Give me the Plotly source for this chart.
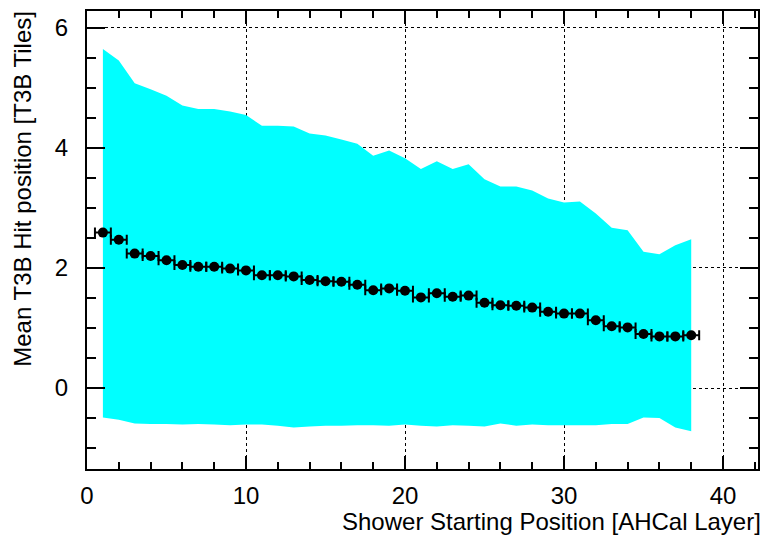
import plotly.graph_objects as go

layers = list(range(1, 39))
mean_hit = [2.59, 2.47, 2.24, 2.20, 2.13, 2.05, 2.02, 2.02, 1.99, 1.96,
            1.88, 1.88, 1.86, 1.80, 1.78, 1.77, 1.72, 1.63, 1.66, 1.62,
            1.51, 1.58, 1.52, 1.54, 1.42, 1.38, 1.37, 1.34, 1.27, 1.24,
            1.24, 1.13, 1.03, 1.01, 0.90, 0.86, 0.86, 0.88]
layer_halfwidth = [0.5] * 38
band_upper = [5.65, 5.46, 5.08, 4.98, 4.87, 4.71, 4.65, 4.65, 4.61, 4.55,
              4.37, 4.37, 4.36, 4.24, 4.21, 4.14, 4.07, 3.87, 3.96, 3.83,
              3.65, 3.78, 3.65, 3.73, 3.48, 3.36, 3.36, 3.29, 3.16, 3.09,
              3.11, 2.91, 2.67, 2.63, 2.27, 2.23, 2.38, 2.48]
band_lower = [-0.49, -0.53, -0.59, -0.60, -0.60, -0.61, -0.60, -0.61, -0.62, -0.61,
              -0.61, -0.63, -0.66, -0.64, -0.63, -0.63, -0.62, -0.62, -0.63, -0.61,
              -0.63, -0.64, -0.62, -0.63, -0.64, -0.59, -0.63, -0.61, -0.62, -0.62,
              -0.62, -0.62, -0.60, -0.60, -0.49, -0.50, -0.66, -0.72]

FONT = "Liberation Sans, Arial, Helvetica, sans-serif"
FS = 24

fig = go.Figure()
fig.add_trace(go.Scatter(
    x=layers + layers[::-1], y=band_upper + band_lower[::-1],
    fill="toself", fillcolor="#00FFFF", mode="none", hoverinfo="skip",
    showlegend=False))
fig.add_trace(go.Scatter(
    x=layers, y=mean_hit, mode="markers",
    marker=dict(color="black", size=10, symbol="circle"),
    error_x=dict(type="data", array=layer_halfwidth, color="black",
                 thickness=2, width=5),
    showlegend=False))

axis_common = dict(
    showline=True, linecolor="black", linewidth=2, mirror="allticks",
    ticks="inside", tickcolor="black", tickwidth=2,
    showgrid=True, gridcolor="black", gridwidth=1, griddash="dot",
    zeroline=False,
    tickfont=dict(family=FONT, size=FS, color="black"),
)

fig.update_xaxes(
    range=[0, 42.2], tick0=0, dtick=10, ticklen=13,
    minor=dict(dtick=2, ticks="inside", ticklen=7, tickwidth=2,
               tickcolor="black", showgrid=False),
    ticklabelstandoff=4,
    **axis_common)
fig.update_yaxes(
    range=[-1.35, 6.283], tick0=0, dtick=2, ticklen=18,
    minor=dict(dtick=0.5, ticks="inside", ticklen=9, tickwidth=2,
               tickcolor="black", showgrid=False),
    ticklabelstandoff=12,
    **axis_common)

fig.update_layout(
    width=763, height=536,
    margin=dict(l=87, r=5, t=11, b=67, autoexpand=False),
    paper_bgcolor="white", plot_bgcolor="white",
    font=dict(family=FONT, size=FS, color="black"),
    annotations=[
        dict(text="Shower Starting Position [AHCal Layer]",
             xref="paper", yref="paper", x=1.007, y=-0.1157,
             xanchor="right", yanchor="middle", showarrow=False,
             font=dict(family=FONT, size=FS, color="black")),
        dict(text="Mean T3B Hit position [T3B Tiles]",
             xref="paper", yref="paper", x=-0.096, y=1.004,
             xanchor="center", yanchor="top", textangle=-90, showarrow=False,
             font=dict(family=FONT, size=FS, color="black")),
    ],
)

fig.write_html("out.html", config={"displayModeBar": False},
               post_script="document.body.style.margin='0';document.body.style.overflow='hidden';")
